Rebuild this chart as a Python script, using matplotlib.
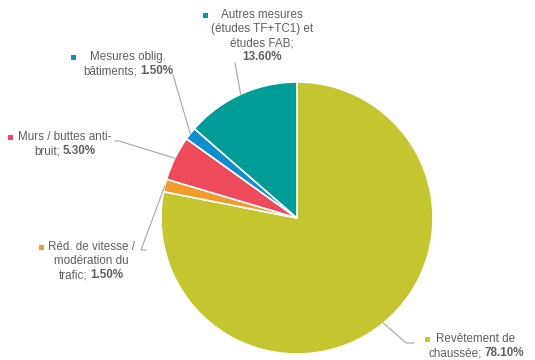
import numpy as np
import matplotlib
matplotlib.use("Agg")
import matplotlib.pyplot as plt
from matplotlib.lines import Line2D
import matplotlib.patches as patches

plt.rcParams['font.family'] = ['Liberation Sans', 'DejaVu Sans']

# data
labels = ["Revêtement de chaussée", "Réd. de vitesse / modération du trafic",
          "Murs / buttes anti-bruit", "Mesures oblig. bâtiments",
          "Autres mesures (études TF+TC1) et études FAB"]
values = [78.10, 1.50, 5.30, 1.50, 13.60]
colors = ["#C3C62E", "#F39A2C", "#EE4A5B", "#0C8ECF", "#009C97"]

# label text lines, the bold value goes after the last line
label_lines = [
    ["Revêtement de", "chaussée;"],
    ["Réd. de vitesse /", "modération du", "trafic;"],
    ["Murs / buttes anti-", "bruit;"],
    ["Mesures oblig.", "bâtiments;"],
    ["Autres mesures", "(études TF+TC1) et", "études FAB;", ""],
]

W, H = 535, 360
fig = plt.figure(figsize=(W / 100, H / 100), dpi=100)
ax = fig.add_axes([0, 0, 1, 1])


def Y(py):
    return H - py


cx, cy, r = 297, Y(218), 136
wedges, _ = ax.pie(values, colors=colors, startangle=90, counterclock=False,
                   center=(cx, cy), radius=r, frame=True,
                   wedgeprops=dict(edgecolor="white", linewidth=1.2))
ax.set_xlim(0, W)
ax.set_ylim(0, H)
ax.set_aspect("equal")
ax.axis("off")

renderer = fig.canvas.get_renderer()
txt_color = "#5F5F5F"
fs = 8.4
line_h = 14.0
space = 2.8  # px between normal text and bold value


def text_width(s, weight):
    t = ax.text(0, 0, s, fontsize=fs, fontweight=weight)
    w = t.get_window_extent(renderer).width
    t.remove()
    return w


def draw_label(i, x, py, marker_x):
    lines = label_lines[i]
    val = "%.2f%%" % values[i]
    ax.add_patch(patches.Rectangle((marker_x - 2.5, Y(py) - 2.5), 5, 5,
                                   color=colors[i], lw=0))
    for k, s in enumerate(lines):
        yy = Y(py + k * line_h)
        if k < len(lines) - 1:
            ax.text(x, yy, s, fontsize=fs, color=txt_color, ha="center", va="center")
        elif not s:
            ax.text(x, yy, val, fontsize=fs, fontweight="bold", color=txt_color,
                    ha="center", va="center")
        else:
            w1 = text_width(s, "normal")
            w2 = text_width(val, "bold")
            x0 = x - (w1 + w2 + space) / 2
            t = ax.text(x0, yy, s, fontsize=fs, color=txt_color, ha="left", va="center")
            ax.annotate(val, xy=(1, 0.5), xycoords=t, xytext=(space * 0.72, 0),
                        textcoords="offset points", fontsize=fs, fontweight="bold",
                        color=txt_color, ha="left", va="center")


# label positions (text center x, first line y, marker x)
draw_label(0, 476, 339, 427)
draw_label(1, 91, 247, 41)
draw_label(2, 65, 137, 10)
draw_label(3, 128, 57, 73)
draw_label(4, 262, 15, 205)


def wedge_mid(i):
    w = wedges[i]
    a = np.radians((w.theta1 + w.theta2) / 2)
    return cx + r * np.cos(a), cy + r * np.sin(a)


lead = "#A6A6A6"
leader_pts = [
    [(414, 343), (406, 343)],
    [(146, 250), (141, 250)],
    [(115, 141), (119, 141)],
    [(173, 75)],
    [(235, 63)],
]
for i, pts in enumerate(leader_pts):
    mx, my = wedge_mid(i)
    xs = [p[0] for p in pts] + [mx]
    ys = [Y(p[1]) for p in pts] + [my]
    ax.add_line(Line2D(xs, ys, color=lead, lw=0.8))

fig.savefig("out.png", dpi=100)
